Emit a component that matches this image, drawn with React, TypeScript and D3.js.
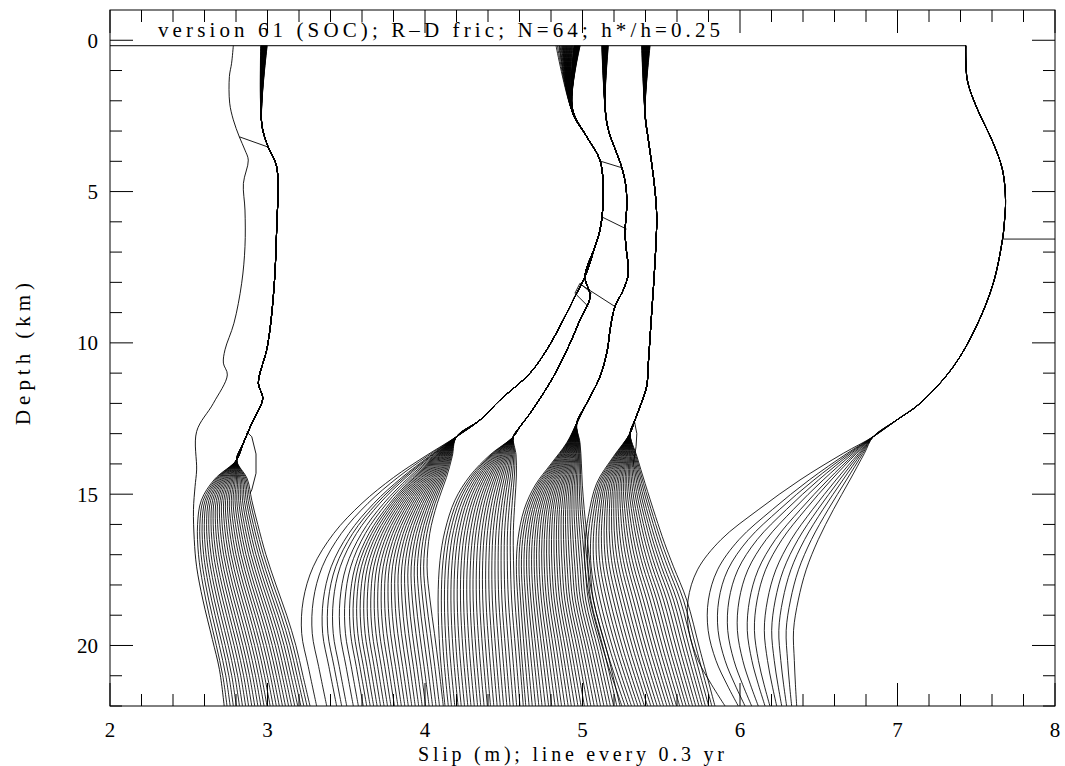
import React from "react";
import * as d3 from "d3";

type Pt = [number, number]; // [slip (m), depth (km)]

const WIDTH = 1065;
const HEIGHT = 766;
const PLOT = { left: 110, right: 1055, top: 10, bottom: 706 };

const slipDomain: [number, number] = [2, 8];
const depthDomain: [number, number] = [-1, 22];
const slipLabels = [2, 3, 4, 5, 6, 7, 8];
const depthLabels = [0, 5, 10, 15, 20];

const TITLE = "version 61 (SOC); R\u2013D fric; N=64; h*/h=0.25";
const X_LABEL = "Slip (m); line every 0.3 yr";
const Y_LABEL = "Depth (km)";

// shallowest grid depth where every profile starts, and the surface trace end
const SURFACE_DEPTH = 0.18;
const SURFACE_END_SLIP = 7.433;

// initial slip profile (t = 0)
const initialProfile: Pt[] = [
  [2.783, 0.18], [2.772, 0.76], [2.758, 1.2], [2.76, 2.08], [2.783, 2.63],
  [2.821, 3.19], [2.857, 3.63], [2.878, 3.96], [2.847, 4.73], [2.857, 5.61],
  [2.857, 6.82], [2.836, 8.03], [2.787, 9.35], [2.73, 10.23], [2.72, 10.67],
  [2.745, 11.06], [2.656, 12.0], [2.55, 12.93], [2.55, 14.2], [2.54, 14.75],
  [2.53, 15.5], [2.535, 16.5], [2.55, 17.4], [2.59, 18.5], [2.65, 19.8],
  [2.695, 20.8], [2.725, 22],
];

// ---- interseismic period 1 ----
const fan1Top: [number, number] = [2.957, 2.998];
const fan1Locked: Pt[] = [
  [2.963, 2.74], [2.999, 3.46], [3.058, 4.18], [3.058, 6.27], [3.037, 8.47],
  [2.999, 10.13], [2.942, 11.34], [2.97, 11.83], [2.9, 12.66], [2.846, 13.32],
  [2.804, 13.87],
];
const fan1Depths = [13.87, 14.5, 15.2, 16.0, 17.0, 18.0, 19.0, 20.0, 21.0, 22.0];
const fan1First = [2.804, 2.665, 2.58, 2.556, 2.562, 2.59, 2.63, 2.675, 2.716, 2.743];
const fan1Last = [2.804, 2.872, 2.9, 2.938, 2.99, 3.054, 3.122, 3.18, 3.225, 3.27];
const fan1Bottoms = [
  2.743, 2.763, 2.783, 2.802, 2.822, 2.841, 2.861, 2.88, 2.9, 2.919, 2.939,
  2.958, 2.978, 2.997, 3.017, 3.036, 3.056, 3.075, 3.095, 3.114, 3.134, 3.153,
  3.173, 3.192, 3.212, 3.231, 3.251, 3.27,
];

// ---- interseismic period 2 ----
const fan2Top: [number, number] = [4.832, 4.94];
const fan2Locked: Pt[] = [
  [4.931, 2.3], [5.027, 3.19], [5.111, 3.96], [5.132, 4.95], [5.128, 5.61],
  [5.111, 6.27], [5.079, 6.82], [5.016, 7.81], [4.952, 8.47], [4.878, 9.24],
  [4.773, 10.23], [4.667, 11.0], [4.476, 11.89], [4.349, 12.55], [4.2, 13.1],
];
const fan2Depths = [13.1, 13.75, 14.45, 15.3, 16.3, 17.4, 18.5, 19.6, 20.7, 22.0];
const fan2First = [4.2, 4.0, 3.8, 3.6, 3.42, 3.29, 3.227, 3.217, 3.259, 3.312];
const fan2Last = [4.2, 4.173, 4.136, 4.078, 4.03, 4.013, 4.032, 4.06, 4.087, 4.116];
const fan2Bottoms = [
  3.312, 3.376, 3.439, 3.471, 3.503, 3.545, 3.577, 3.608, 3.63, 3.652, 3.674,
  3.696, 3.718, 3.74, 3.762, 3.784, 3.806, 3.828, 3.85, 3.872, 3.894, 3.916,
  3.938, 3.96, 3.982, 4.004, 4.026, 4.048, 4.07, 4.092, 4.116,
];

// ---- interseismic period 3 ----
const fan3Top: [number, number] = [4.945, 4.985];
const fan3Locked: Pt[] = [
  [4.935, 2.25], [5.027, 3.19], [5.111, 3.96], [5.132, 4.95], [5.128, 5.61],
  [5.111, 6.27], [5.079, 6.82], [5.016, 7.81], [5.048, 8.47], [4.984, 9.24],
  [4.921, 10.01], [4.815, 11.12], [4.667, 12.33], [4.603, 12.77], [4.561, 13.1],
];
const fan3Depths = [13.1, 13.7, 14.4, 15.2, 16.2, 17.2, 18.5, 20.2, 22.0];
const fan3First = [4.561, 4.413, 4.285, 4.19, 4.127, 4.095, 4.083, 4.095, 4.127];
const fan3Last = [4.561, 4.578, 4.58, 4.571, 4.561, 4.562, 4.571, 4.597, 4.624];
const fan3Bottoms = [
  4.127, 4.148, 4.168, 4.189, 4.21, 4.23, 4.251, 4.272, 4.292, 4.313, 4.334,
  4.354, 4.375, 4.396, 4.416, 4.437, 4.458, 4.478, 4.499, 4.52, 4.54, 4.561,
  4.582, 4.603, 4.624,
];

// ---- interseismic period 4 ----
const fan4Top: [number, number] = [5.122, 5.164];
const fan4Locked: Pt[] = [
  [5.143, 2.19], [5.164, 2.96], [5.217, 3.73], [5.248, 4.18], [5.276, 4.84],
  [5.28, 5.61], [5.27, 6.27], [5.276, 6.82], [5.291, 7.7], [5.259, 8.25],
  [5.206, 8.8], [5.175, 9.57], [5.158, 10.23], [5.111, 11.12], [5.026, 12.0],
  [4.963, 12.66],
];
const fan4Depths = [12.66, 13.3, 14.0, 14.7, 15.5, 16.5, 17.4, 18.5, 20.2, 22.0];
const fan4First = [4.963, 4.9, 4.8, 4.7, 4.63, 4.59, 4.58, 4.59, 4.612, 4.64];
const fan4Last = [4.963, 4.984, 4.993, 4.999, 5.011, 5.031, 5.048, 5.069, 5.156, 5.238];
const fan4Bottoms = [
  4.64, 4.661, 4.681, 4.702, 4.723, 4.743, 4.764, 4.785, 4.805, 4.826, 4.847,
  4.867, 4.888, 4.909, 4.929, 4.95, 4.971, 4.991, 5.012, 5.033, 5.053, 5.074,
  5.095, 5.115, 5.136, 5.157, 5.177, 5.198, 5.218, 5.238,
];

// ---- interseismic period 5 ----
const fan5Top: [number, number] = [5.375, 5.429];
const fan5Locked: Pt[] = [
  [5.397, 2.41], [5.418, 3.29], [5.439, 4.06], [5.46, 4.95], [5.471, 5.83],
  [5.46, 7.37], [5.439, 9.02], [5.418, 10.67], [5.407, 11.45], [5.365, 12.11],
  [5.333, 12.55], [5.302, 12.99],
];
const fan5Depths = [12.99, 13.76, 14.64, 15.74, 16.62, 17.4, 18.5, 20.15, 22.0];
const fan5First = [5.302, 5.196, 5.09, 5.037, 5.016, 5.016, 5.048, 5.132, 5.25];
const fan5Last = [5.302, 5.346, 5.397, 5.464, 5.521, 5.578, 5.662, 5.746, 5.841];
const fan5Bottoms = [
  5.25, 5.27, 5.291, 5.311, 5.332, 5.352, 5.372, 5.393, 5.413, 5.434, 5.454,
  5.474, 5.495, 5.515, 5.536, 5.556, 5.576, 5.597, 5.617, 5.638, 5.658, 5.678,
  5.699, 5.719, 5.74, 5.76, 5.78, 5.801, 5.821, 5.841,
];

// ---- after the last event ----
const fan6Top: [number, number] = [7.433, 7.433];
const fan6Locked: Pt[] = [
  [7.443, 1.31], [7.5, 2.19], [7.608, 3.4], [7.667, 4.29], [7.686, 5.28],
  [7.678, 6.05], [7.667, 6.57], [7.608, 8.03], [7.5, 9.46], [7.354, 10.79],
  [7.143, 12.0], [6.995, 12.55], [6.846, 13.1],
];
const fan6Depths = [13.1, 13.65, 14.53, 15.5, 16.5, 17.5, 18.5, 19.5, 20.5, 21.3, 22.0];
const fan6First = [6.846, 6.656, 6.381, 6.12, 5.88, 5.73, 5.67, 5.675, 5.735, 5.82, 5.905];
const fan6Last = [6.846, 6.79, 6.698, 6.594, 6.497, 6.42, 6.37, 6.34, 6.345, 6.352, 6.36];
const fan6Bottoms = [
  5.905, 5.989, 6.032, 6.074, 6.116, 6.159, 6.19, 6.233, 6.265, 6.296, 6.328, 6.36,
];

// profiles caught while a rupture was propagating
const ruptureSnapshots: Pt[][] = [
  [[2.821, 3.19], [2.999, 3.52]],
  [[5.111, 3.99], [5.248, 4.21]],
  [[5.12, 5.83], [5.28, 6.24]],
  [[4.994, 8.09], [5.206, 8.8]],
  [[4.984, 8.03], [4.952, 8.36], [5.037, 8.8]],
  [[4.984, 8.03], [5.058, 8.36]],
  [[7.667, 6.57], [8.0, 6.57]],
  [[2.868, 12.94], [2.9, 13.1], [2.927, 13.67], [2.927, 14.31], [2.9, 14.86], [2.889, 14.97]],
  [[5.33, 12.6], [5.345, 13.0], [5.34, 13.43], [5.32, 14.1]],
];

type Fan = {
  top: [number, number];
  locked: Pt[];
  depths: number[];
  first: number[];
  last: number[];
  bottoms: number[];
};

const fans: Fan[] = [
  { top: fan1Top, locked: fan1Locked, depths: fan1Depths, first: fan1First, last: fan1Last, bottoms: fan1Bottoms },
  { top: fan2Top, locked: fan2Locked, depths: fan2Depths, first: fan2First, last: fan2Last, bottoms: fan2Bottoms },
  { top: fan3Top, locked: fan3Locked, depths: fan3Depths, first: fan3First, last: fan3Last, bottoms: fan3Bottoms },
  { top: fan4Top, locked: fan4Locked, depths: fan4Depths, first: fan4First, last: fan4Last, bottoms: fan4Bottoms },
  { top: fan5Top, locked: fan5Locked, depths: fan5Depths, first: fan5First, last: fan5Last, bottoms: fan5Bottoms },
  { top: fan6Top, locked: fan6Locked, depths: fan6Depths, first: fan6First, last: fan6Last, bottoms: fan6Bottoms },
];

// Each profile of a period: shallow creep at the top, the locked section,
// then the creeping section below, placed between the first and last
// profiles of the period by its slip at the base of the model.
function fanProfiles(f: Fan): Pt[][] {
  const n = f.depths.length;
  const b0 = f.first[n - 1];
  const b1 = f.last[n - 1];
  return f.bottoms.map((b) => {
    const w = b1 === b0 ? 0 : (b - b0) / (b1 - b0);
    const top: Pt = [f.top[0] + w * (f.top[1] - f.top[0]), SURFACE_DEPTH];
    const deep: Pt[] = f.depths
      .slice(1)
      .map((d, i) => [f.first[i + 1] + w * (f.last[i + 1] - f.first[i + 1]), d]);
    return [top, ...f.locked, ...deep];
  });
}

const FONT = "'Liberation Serif', 'DejaVu Serif', serif";

export default function App() {
  const x = d3.scaleLinear().domain(slipDomain).range([PLOT.left, PLOT.right]);
  const y = d3.scaleLinear().domain(depthDomain).range([PLOT.top, PLOT.bottom]);

  const smooth = d3
    .line<Pt>()
    .x((p) => x(p[0]))
    .y((p) => y(p[1]))
    .curve(d3.curveCatmullRom.alpha(0.5));
  const straight = d3
    .line<Pt>()
    .x((p) => x(p[0]))
    .y((p) => y(p[1]));

  const profiles = fans.flatMap(fanProfiles);

  const slipTicks = x.ticks(30);
  const depthTicks = y.ticks(23).filter((d) => d >= 0);
  const isMajor = (v: number) => Math.abs(v - Math.round(v)) < 1e-6;
  const isMajorDepth = (v: number) => Math.abs(v / 5 - Math.round(v / 5)) < 1e-6;
  const MAJ = 23;
  const MIN = 12;

  return (
    <svg
      width={WIDTH}
      height={HEIGHT}
      viewBox={`0 0 ${WIDTH} ${HEIGHT}`}
      style={{ position: "absolute", left: 0, top: 0, background: "#fff" }}
    >
      <rect x={0} y={0} width={WIDTH} height={HEIGHT} fill="#fff" />
      <defs>
        <clipPath id="plot-area">
          <rect x={PLOT.left} y={PLOT.top} width={PLOT.right - PLOT.left} height={PLOT.bottom - PLOT.top} />
        </clipPath>
      </defs>

      <g clipPath="url(#plot-area)" fill="none" stroke="#000" strokeLinejoin="round">
        <line
          x1={x(slipDomain[0])}
          x2={x(SURFACE_END_SLIP)}
          y1={y(SURFACE_DEPTH)}
          y2={y(SURFACE_DEPTH)}
          strokeWidth={1}
        />
        <path d={smooth(initialProfile) ?? ""} strokeWidth={0.9} />
        {profiles.map((p, i) => (
          <path key={i} d={smooth(p) ?? ""} strokeWidth={0.85} />
        ))}
        {ruptureSnapshots.map((p, i) => (
          <path key={`r${i}`} d={straight(p) ?? ""} strokeWidth={0.9} />
        ))}
      </g>

      {/* frame */}
      <rect
        x={PLOT.left}
        y={PLOT.top}
        width={PLOT.right - PLOT.left}
        height={PLOT.bottom - PLOT.top}
        fill="none"
        stroke="#000"
        strokeWidth={1}
      />

      {/* ticks */}
      <g stroke="#000" strokeWidth={1}>
        {slipTicks.map((t) => {
          const len = isMajor(t) ? MAJ : MIN;
          return (
            <g key={`xt${t}`}>
              <line x1={x(t)} x2={x(t)} y1={PLOT.bottom} y2={PLOT.bottom - len} />
              <line x1={x(t)} x2={x(t)} y1={PLOT.top} y2={PLOT.top + len} />
            </g>
          );
        })}
        {depthTicks.map((t) => {
          const len = isMajorDepth(t) ? MAJ : MIN;
          return (
            <g key={`yt${t}`}>
              <line x1={PLOT.left} x2={PLOT.left + len} y1={y(t)} y2={y(t)} />
              <line x1={PLOT.right} x2={PLOT.right - len} y1={y(t)} y2={y(t)} />
            </g>
          );
        })}
      </g>

      {/* tick labels */}
      <g fontFamily={FONT} fontSize={21} fill="#000">
        {slipLabels.map((t) => (
          <text key={`xl${t}`} x={x(t)} y={737} textAnchor="middle">
            {t}
          </text>
        ))}
        {depthLabels.map((t) => (
          <text key={`yl${t}`} x={98} y={y(t)} dy="0.35em" textAnchor="end">
            {t}
          </text>
        ))}
      </g>

      {/* title and axis titles */}
      <g fontFamily={FONT} fontSize={21} fill="#000">
        <text x={158} y={37} textLength={562} lengthAdjust="spacing">
          {TITLE}
        </text>
        <text x={418} y={761} fontSize={20} textLength={306} lengthAdjust="spacing">
          {X_LABEL}
        </text>
        <text
          transform={`translate(30, ${354}) rotate(-90)`}
          textAnchor="middle"
          textLength={142}
          lengthAdjust="spacing"
        >
          {Y_LABEL}
        </text>
      </g>
    </svg>
  );
}
